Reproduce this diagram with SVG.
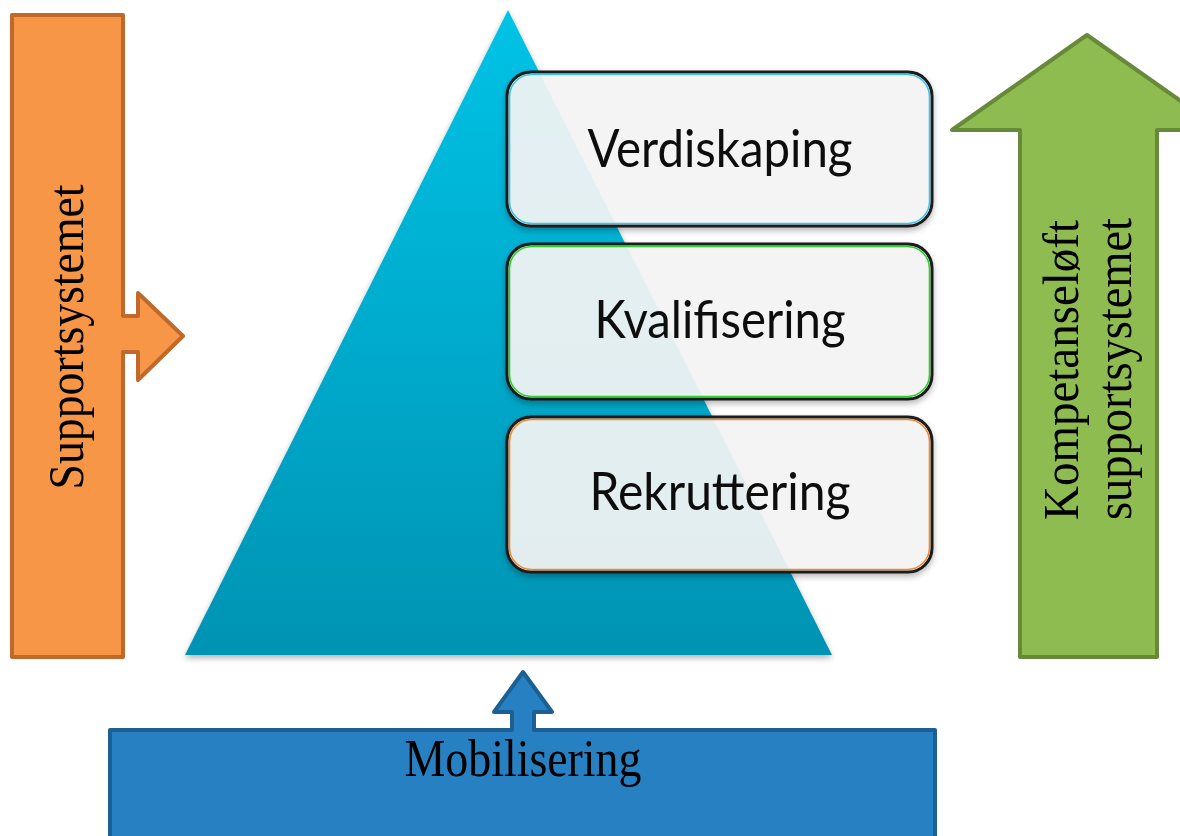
<svg xmlns="http://www.w3.org/2000/svg" width="1180" height="836" viewBox="0 0 1180 836">
<defs>
<linearGradient id="triG" x1="0" y1="0" x2="0" y2="1">
<stop offset="0" stop-color="#00C3E6"/>
<stop offset="1" stop-color="#0093B3"/>
</linearGradient>
<filter id="sh" x="-10%" y="-10%" width="120%" height="130%">
<feDropShadow dx="0" dy="3" stdDeviation="3" flood-color="#000" flood-opacity="0.3"/>
</filter>
<style>
.serif{font-family:"Liberation Serif","Times New Roman",serif;font-size:47px;fill:#000}
.rot{font-size:51px}
.sans{font-family:Lato,"Open Sans",sans-serif;font-size:53px;fill:#111}
.box{fill:#F6F6F6;fill-opacity:0.91;stroke:#1A1A1A;stroke-width:3}
.inner{fill:none;stroke-width:1.6}
</style>
</defs>
<rect width="1180" height="836" fill="#FFFFFF"/>

<g id="supportsystemet">
<path d="M12,15 H123 V316 H138 V293 L183,336 L138,380 V352 H123 V657 H12 Z" fill="#F79646" stroke="#C0692A" stroke-width="4" stroke-linejoin="round"/>
<text class="serif rot" transform="translate(83,337) rotate(-90)" text-anchor="middle" textLength="305" lengthAdjust="spacingAndGlyphs">Supportsystemet</text>
</g>

<g id="kompetanseloft">
<path d="M1020,657 V130 H952 L1087,35 L1222,130 H1157 V657 Z" fill="#8FBC50" stroke="#66893A" stroke-width="4" stroke-linejoin="round"/>
<text class="serif rot" transform="translate(1078,370) rotate(-90)" text-anchor="middle" textLength="300" lengthAdjust="spacingAndGlyphs">Kompetanseløft</text>
<text class="serif rot" transform="translate(1131,369) rotate(-90)" text-anchor="middle" textLength="302" lengthAdjust="spacingAndGlyphs">supportsystemet</text>
</g>

<g id="pyramide">
<polygon points="508,10 832,655 185,655" fill="url(#triG)" filter="url(#sh)"/>
</g>

<g id="mobilisering">
<path d="M110,840 V730 H512 V712 H494 L523,672 L552,712 H534 V730 H935 V840" fill="#2680C2" stroke="#1C5F93" stroke-width="4" stroke-linejoin="round"/>
<text class="serif" x="523" y="776" text-anchor="middle" textLength="237" lengthAdjust="spacingAndGlyphs" transform="translate(0,-93) scale(1,1.12)">Mobilisering</text>
</g>

<g id="verdiskaping" filter="url(#sh)">
<rect class="box" x="507" y="72" width="425" height="154" rx="24"/>
<rect class="inner" x="509.5" y="74.5" width="420" height="149" rx="22" stroke="#3CC6E6"/>
<text class="sans" x="720" y="167" text-anchor="middle" textLength="265" lengthAdjust="spacingAndGlyphs">Verdiskaping</text>
</g>

<g id="kvalifisering" filter="url(#sh)">
<rect class="box" x="507" y="244" width="425" height="155" rx="24"/>
<rect class="inner" x="509.5" y="246.5" width="420" height="150" rx="22" stroke="#2ED02E"/>
<text class="sans" x="720" y="338" text-anchor="middle" textLength="251" lengthAdjust="spacingAndGlyphs">Kvalifisering</text>
</g>

<g id="rekruttering" filter="url(#sh)">
<rect class="box" x="507" y="417" width="425" height="155" rx="24"/>
<rect class="inner" x="509.5" y="419.5" width="420" height="150" rx="22" stroke="#F08A30"/>
<text class="sans" x="720" y="510" text-anchor="middle" textLength="261" lengthAdjust="spacingAndGlyphs">Rekruttering</text>
</g>
</svg>
